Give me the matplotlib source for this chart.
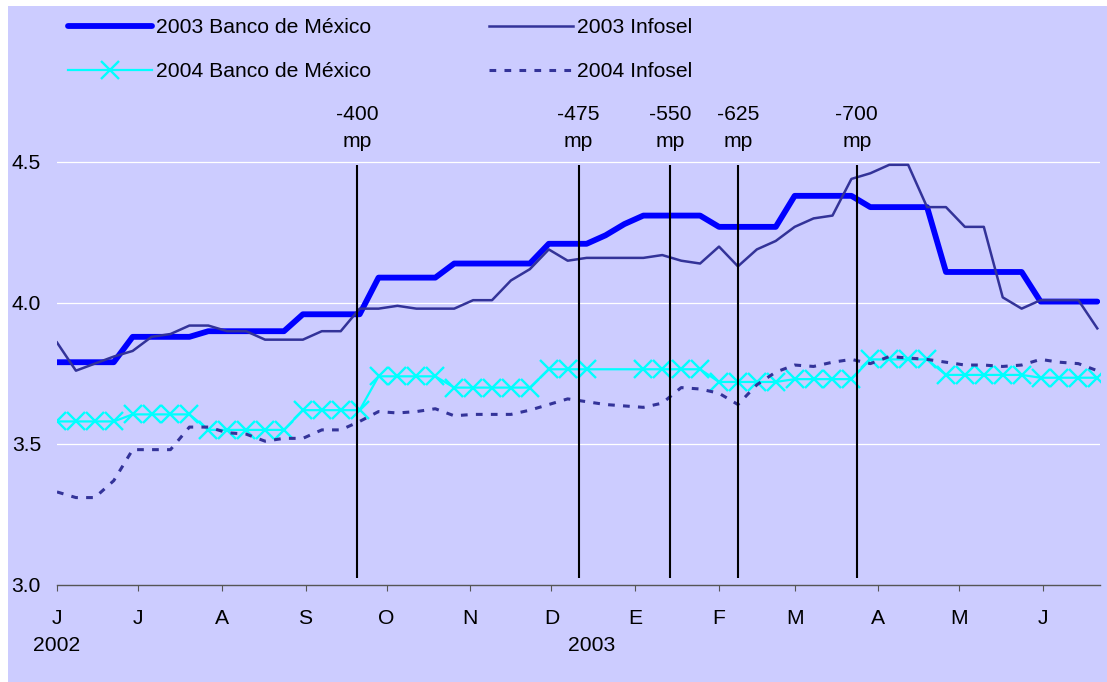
import matplotlib
matplotlib.use('Agg')
import matplotlib.pyplot as plt
import matplotlib.dates as mdates
from matplotlib.patches import Rectangle
import pandas as pd

plt.rcParams['font.family'] = ['Liberation Sans', 'DejaVu Sans']
BG = '#CCCCFF'
FS = 15.2

# semanas: junio 2002 a junio 2003
weeks = pd.date_range('2002-06-01', periods=56, freq='7D')

banxico_2003 = [3.79, 3.79, 3.79, 3.79, 3.88, 3.88, 3.88, 3.88,
                3.90, 3.90, 3.90, 3.90, 3.90, 3.96, 3.96, 3.96, 3.96,
                4.09, 4.09, 4.09, 4.09, 4.14, 4.14, 4.14, 4.14, 4.14,
                4.21, 4.21, 4.21, 4.24, 4.28, 4.31, 4.31, 4.31, 4.31,
                4.27, 4.27, 4.27, 4.27, 4.38, 4.38, 4.38, 4.38,
                4.34, 4.34, 4.34, 4.34, 4.11, 4.11, 4.11, 4.11, 4.11,
                4.005, 4.005, 4.005, 4.005]
infosel_2003 = [3.86, 3.76, 3.785, 3.81, 3.83, 3.88, 3.89, 3.92,
                3.92, 3.90, 3.90, 3.87, 3.87, 3.87, 3.90, 3.90, 3.98,
                3.98, 3.99, 3.98, 3.98, 3.98, 4.01, 4.01, 4.08, 4.12,
                4.19, 4.15, 4.16, 4.16, 4.16, 4.16, 4.17, 4.15, 4.14,
                4.20, 4.13, 4.19, 4.22, 4.27, 4.30, 4.31, 4.44,
                4.46, 4.49, 4.49, 4.34, 4.34, 4.27, 4.27, 4.02, 3.98,
                4.01, 4.01, 4.01, 3.91]
banxico_2004 = [3.58, 3.58, 3.58, 3.58, 3.605, 3.605, 3.605, 3.605,
                3.55, 3.55, 3.55, 3.55, 3.55, 3.62, 3.62, 3.62, 3.62,
                3.74, 3.74, 3.74, 3.74, 3.70, 3.70, 3.70, 3.70, 3.70,
                3.765, 3.765, 3.765, None, None, 3.765, 3.765, 3.765, 3.765,
                3.72, 3.72, 3.72, 3.72, 3.73, 3.73, 3.73, 3.73,
                3.80, 3.80, 3.80, 3.80, 3.745, 3.745, 3.745, 3.745, 3.745,
                3.735, 3.735, 3.735, 3.735]
infosel_2004 = [3.33, 3.31, 3.31, 3.37, 3.48, 3.48, 3.48, 3.56,
                3.56, 3.54, 3.535, 3.51, 3.52, 3.52, 3.55, 3.55, 3.58,
                3.615, 3.61, 3.615, 3.625, 3.60, 3.605, 3.605, 3.605, 3.62,
                3.64, 3.66, 3.65, 3.64, 3.635, 3.63, 3.645, 3.70, 3.695,
                3.68, 3.64, 3.71, 3.755, 3.78, 3.775, 3.79, 3.80,
                3.785, 3.81, 3.805, 3.80, 3.79, 3.78, 3.78, 3.775, 3.78,
                3.80, 3.79, 3.785, 3.76]

months = pd.date_range('2002-06-01', periods=13, freq='MS')
month_labels = ['J', 'J', 'A', 'S', 'O', 'N', 'D', 'E', 'F', 'M', 'A', 'M', 'J']
year_pos = pd.to_datetime(['2002-06-01', '2002-12-16'])
year_labels = ['2002', '2003']

# recortes de Banxico (corto)
cut_dates = pd.to_datetime(['2002-09-20', '2002-12-11', '2003-01-14',
                            '2003-02-08', '2003-03-24'])
cut_labels = ['-400\nmp', '-475\nmp', '-550\nmp', '-625\nmp', '-700\nmp']

fig = plt.figure(figsize=(11.07, 6.82), dpi=100, facecolor='white')
fig.patches.append(Rectangle((8 / 1107, 0), 1, 1 - 6 / 682, transform=fig.transFigure,
                             facecolor=BG, edgecolor='none', zorder=-10))
ax = fig.add_axes([57 / 1107, 97 / 682, 1043 / 1107, 579 / 682])
ax.set_facecolor(BG)

ax.plot(weeks, banxico_2003, color='#0000FF', lw=4.2, solid_joinstyle='round',
        solid_capstyle='round', label='2003 Banco de México', zorder=3)
b04 = pd.Series(banxico_2004, index=weeks, dtype=float).dropna()
ax.plot(b04.index, b04.values, color='#00FFFF', lw=1.6, marker='x', ms=13, mew=1.7,
        label='2004 Banco de México', zorder=3)
ax.plot(weeks, infosel_2003, color='#333399', lw=1.8, label='2003 Infosel', zorder=4)
ax.plot(weeks, infosel_2004, color='#333399', lw=2.2, dashes=(2.2, 2.7),
        dash_capstyle='butt', label='2004 Infosel', zorder=4)

ax.vlines(cut_dates, 3.025, 4.49, color='black', lw=1.5, zorder=5)
for d, t in zip(cut_dates, cut_labels):
    ax.text(d, 4.62, t, ha='center', va='center', fontsize=FS, linespacing=1.5)

ax.set_ylim(3.0, 3 + 579 / 282)
ax.set_xlim(pd.Timestamp('2002-06-01'), pd.Timestamp('2003-06-22'))
ax.set_yticks([3.0, 3.5, 4.0, 4.5])
ax.set_yticklabels(['3.0', '3.5', '4.0', '4.5'])
for v in [3.5, 4.0, 4.5]:
    ax.axhline(v, color='white', lw=0.9, zorder=1)

ax.set_xticks(months)
ax.set_xticklabels(month_labels)
ax.tick_params(axis='x', length=4, color='#555555', width=0.8, pad=13, labelsize=FS)
ax.tick_params(axis='y', length=0, pad=11.5, labelsize=FS)
for s in ['left', 'top', 'right']:
    ax.spines[s].set_visible(False)
ax.spines['bottom'].set_color('#555555')
ax.spines['bottom'].set_linewidth(1.0)

for d, t in zip(year_pos, year_labels):
    ax.text(d, -0.105, t, transform=ax.get_xaxis_transform(), ha='center',
            va='center', fontsize=FS)

h, l = ax.get_legend_handles_labels()
ax.legend(h, l, ncol=2, loc='upper left', bbox_to_anchor=(68 / 1107, 1 - 18 / 682),
          bbox_transform=fig.transFigure, frameon=False, fontsize=FS,
          borderpad=0, borderaxespad=0, handlelength=4.0, handletextpad=0.15,
          columnspacing=5.6, labelspacing=1.2)

fig.savefig('out.png', dpi=100, facecolor=fig.get_facecolor())
